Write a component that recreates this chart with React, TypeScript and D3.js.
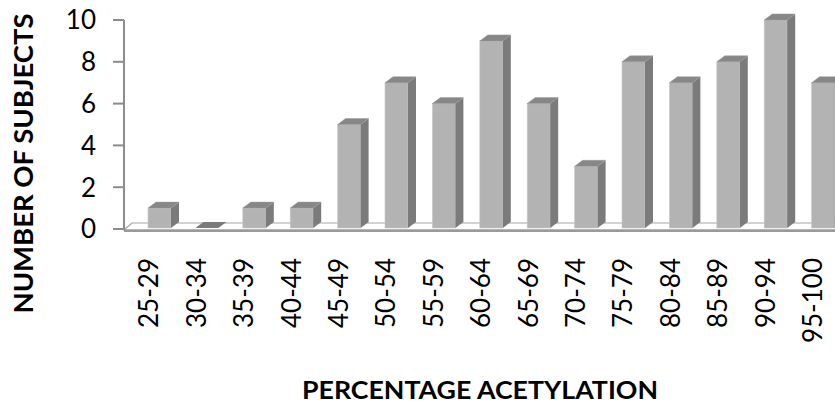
import React from "react";
import * as d3 from "d3";

const WIDTH = 835;
const HEIGHT = 405;

const categories = [
  "25-29", "30-34", "35-39", "40-44", "45-49", "50-54", "55-59", "60-64",
  "65-69", "70-74", "75-79", "80-84", "85-89", "90-94", "95-100",
];
const subjects = [1, 0, 1, 1, 5, 7, 6, 9, 6, 3, 8, 7, 8, 10, 7];
const yTicks = [0, 2, 4, 6, 8, 10];

const AXIS_X = 124;
const DEPTH_X = 8;
const DEPTH_Y = 6;
const BAR_W = 23;
const FONT = "Lato, 'Open Sans', sans-serif";

export default function App() {
  const xScale = d3.scaleBand<string>().domain(categories).range([125.3, 836.3]);
  const yScale = d3.scaleLinear().domain([0, 10]).range([229, 20]);
  const y0 = yScale(0) - 1;

  const bars = categories.map((c, i) => {
    const v = subjects[i];
    const cx = (xScale(c) ?? 0) + xScale.bandwidth() / 2;
    const x = cx - 1;
    const yv = yScale(v) - (v === 0 ? 1 : 0);
    const top = `${x},${yv} ${x + DEPTH_X},${yv - DEPTH_Y} ${x + BAR_W + DEPTH_X},${yv - DEPTH_Y} ${x + BAR_W},${yv}`;
    if (v === 0) {
      return <polygon key={c} points={top} fill="#7a7a7a" />;
    }
    const side = `${x + BAR_W},${yv} ${x + BAR_W + DEPTH_X},${yv - DEPTH_Y} ${x + BAR_W + DEPTH_X},${y0 - DEPTH_Y} ${x + BAR_W},${y0}`;
    return (
      <g key={c}>
        <rect x={x} y={yv} width={BAR_W} height={y0 - yv} fill="#b3b3b3" stroke="#c8c8c8" strokeWidth={0.6} />
        <polygon points={side} fill="#7b7b7b" />
        <polygon points={top} fill="#878787" stroke="#9a9a9a" strokeWidth={0.5} />
      </g>
    );
  });

  const floorFront = 230;
  const floorBack = floorFront - DEPTH_Y - 1;
  const floor = `${AXIS_X},${floorFront} ${WIDTH + 20},${floorFront} ${WIDTH + 20 + DEPTH_X},${floorBack} ${AXIS_X + DEPTH_X},${floorBack}`;

  return (
    <svg width={WIDTH} height={HEIGHT} style={{ position: "absolute", left: 0, top: 0, background: "#fff" }}>
      {/* floor */}
      <polygon points={floor} fill="#fff" stroke="#a6a6a6" strokeWidth={1.2} />
      <rect x={AXIS_X} y={floorFront - 0.5} width={WIDTH - AXIS_X} height={2.5} fill="#9a9a9a" />

      {/* y axis */}
      <line x1={AXIS_X} x2={AXIS_X} y1={yScale(10)} y2={floorFront} stroke="#8c8c8c" strokeWidth={2} />
      {yTicks.map((t) => (
        <g key={t}>
          <line x1={113} x2={AXIS_X} y1={yScale(t)} y2={yScale(t)} stroke="#8c8c8c" strokeWidth={2} />
          <text x={96} y={yScale(t)} dy="0.36em" textAnchor="end" fontFamily={FONT} fontSize={26} fill="#000">
            {t}
          </text>
        </g>
      ))}

      {bars}

      {/* x tick labels */}
      {categories.map((c) => {
        const cx = (xScale(c) ?? 0) + xScale.bandwidth() / 2;
        return (
          <text
            key={c}
            transform={`translate(${cx},258) rotate(-90)`}
            dy="0.36em"
            textAnchor="end"
            fontFamily={FONT}
            fontSize={26}
            fill="#000"
          >
            {c}
          </text>
        );
      })}

      {/* axis titles */}
      <text
        transform="translate(33,163.5) rotate(-90)"
        textAnchor="middle"
        fontFamily={FONT}
        fontWeight="bold"
        fontSize={27.5}
        fill="#000"
      >
        NUMBER OF SUBJECTS
      </text>
      <text
        x={480}
        y={399}
        textAnchor="middle"
        fontFamily={FONT}
        fontWeight="bold"
        fontSize={24.5}
        textLength={356}
        lengthAdjust="spacingAndGlyphs"
        fill="#000"
      >
        PERCENTAGE ACETYLATION
      </text>
    </svg>
  );
}
